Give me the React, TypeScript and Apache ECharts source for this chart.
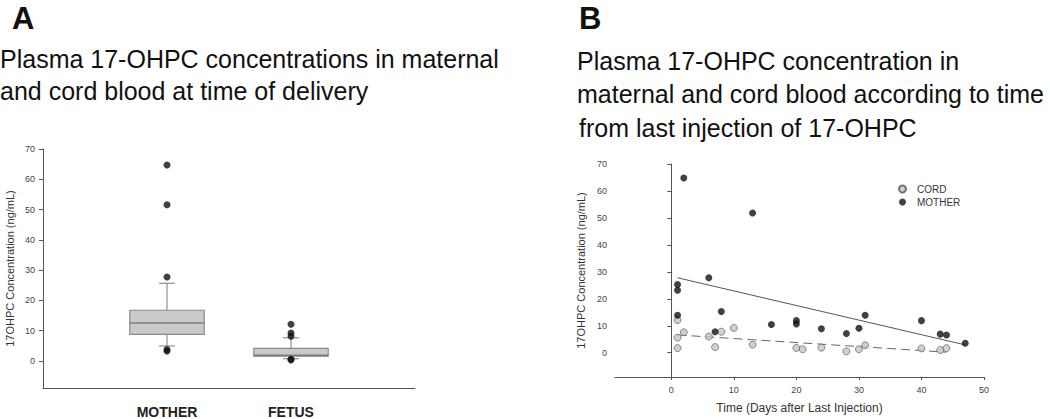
import React, { useEffect, useRef } from "react";
import * as echarts from "echarts";

// ---------- Panel A data ----------
const boxCategories = ["MOTHER", "FETUS"];
const boxPositions = [1, 2];
// [lower whisker, Q1, median, Q3, upper whisker]
const boxStats = [
  [4.9, 8.7, 12.5, 16.7, 25.6],
  [0.7, 1.5, 1.8, 4.1, 7.6],
];
const motherOutliers = [64.7, 51.6, 27.7, 3.7, 3.2];
const fetusOutliers = [12.1, 9.2, 8.1, 0.5, 0.3];

// ---------- Panel B data ----------
const motherDays = [2, 13, 6, 1, 1, 1, 8, 7, 16, 20, 20, 24, 28, 30, 31, 40, 43, 44, 47];
const motherConc = [64.8, 51.8, 27.8, 25.3, 23.2, 13.9, 15.3, 7.8, 10.5, 11.9, 10.7, 8.9, 7.1, 9.1, 13.9, 11.9, 6.9, 6.6, 3.5];
const cordDays = [1, 1, 1, 2, 6, 7, 8, 10, 13, 20, 21, 24, 28, 30, 31, 40, 43, 44];
const cordConc = [12.1, 5.6, 1.7, 7.6, 6.0, 2.1, 7.8, 9.2, 3.0, 1.8, 1.3, 1.9, 0.5, 1.3, 2.8, 1.6, 1.0, 1.7];
// fitted regression lines (end points)
const motherFitDays = [1, 47];
const motherFitConc = [27.8, 2.9];
const cordFitDays = [1, 44];
const cordFitConc = [6.6, 0.2];

const yTicks = [0, 10, 20, 30, 40, 50, 60, 70];
const xTicksB = [0, 10, 20, 30, 40, 50];

const FONT = "'Liberation Sans', Arial, Helvetica, sans-serif";
const AXIS = "#555";
const LABEL = "#444";

const zip = (a: number[], b: number[]) => a.map((v, i) => [v, b[i]]);

export default function App() {
  const ref = useRef<HTMLDivElement>(null);
  useEffect(() => {
    document.body.style.margin = "0";
    if (!ref.current) return;
    const chart = echarts.init(ref.current, null, { renderer: "svg" });

    const boxData = boxPositions.map((p, i) => [p, ...boxStats[i]]);
    const outlierData = [
      ...motherOutliers.map((v) => [boxPositions[0], v]),
      ...fetusOutliers.map((v) => [boxPositions[1], v]),
    ];

    const yAxisCommon = (gridIndex: number, name: string, gap: number) => ({
      type: "value",
      gridIndex,
      min: -9,
      max: 70,
      name,
      nameLocation: "middle",
      nameGap: gap,
      nameTextStyle: { fontFamily: FONT, fontSize: 11, color: "#333" },
      axisLine: { show: true, lineStyle: { color: AXIS, width: 1 } },
      axisTick: { show: true, length: 4, customValues: yTicks, lineStyle: { color: AXIS } },
      axisLabel: { customValues: yTicks, fontFamily: FONT, fontSize: 9, color: LABEL, margin: 8 },
      splitLine: { show: false },
    });

    const option: any = {
      animation: false,
      backgroundColor: "#fff",
      grid: [
        { left: 43, right: 635, top: 149, bottom: 31 },
        { left: 615, right: 66, top: 164, bottom: 37 },
      ],
      xAxis: [
        {
          type: "value",
          gridIndex: 0,
          min: 0,
          max: 3,
          axisLine: { show: true, onZero: false, lineStyle: { color: AXIS, width: 1 } },
          axisTick: { show: false },
          axisLabel: {
            customValues: boxPositions,
            formatter: (v: number) => boxCategories[boxPositions.indexOf(v)] ?? "",
            fontFamily: FONT,
            fontSize: 14,
            fontWeight: "bold",
            color: "#222",
            margin: 17,
          },
          splitLine: { show: false },
        },
        {
          type: "value",
          gridIndex: 1,
          min: -9,
          max: 50,
          name: "Time (Days after Last Injection)",
          nameLocation: "middle",
          nameGap: 25,
          nameTextStyle: { fontFamily: FONT, fontSize: 12, color: "#333" },
          axisLine: { show: true, onZero: false, lineStyle: { color: AXIS, width: 1 } },
          axisTick: { show: true, length: 3, customValues: xTicksB, lineStyle: { color: AXIS } },
          axisLabel: { customValues: xTicksB, fontFamily: FONT, fontSize: 9, color: LABEL, margin: 8 },
          splitLine: { show: false },
        },
      ],
      yAxis: [
        yAxisCommon(0, "17OHPC Concentration (ng/mL)", 28),
        yAxisCommon(1, "17OHPC Concentration (ng/mL)", 29),
      ],
      legend: {
        data: ["CORD", "MOTHER"],
        orient: "vertical",
        left: 893,
        top: 179,
        itemWidth: 7,
        itemHeight: 7,
        itemGap: 3,
        textStyle: { fontFamily: FONT, fontSize: 10, color: "#333", padding: [0, 0, 0, 6] },
      },
      series: [
        {
          type: "custom",
          xAxisIndex: 0,
          yAxisIndex: 0,
          data: boxData,
          encode: { x: 0, y: [1, 2, 3, 4, 5] },
          renderItem: (params: any, api: any) => {
            const x = api.value(0);
            const lo = api.value(1), q1 = api.value(2), med = api.value(3), q3 = api.value(4), hi = api.value(5);
            const pTL = api.coord([x - 0.3, q3]);
            const pBR = api.coord([x + 0.3, q1]);
            const pMedL = api.coord([x - 0.3, med]);
            const pMedR = api.coord([x + 0.3, med]);
            const pHi = api.coord([x, hi]);
            const pLo = api.coord([x, lo]);
            const pQ3 = api.coord([x, q3]);
            const pQ1 = api.coord([x, q1]);
            const cap = 8;
            const ls = { stroke: "#8f8f8f", lineWidth: 1.2 };
            return {
              type: "group",
              children: [
                { type: "line", shape: { x1: pHi[0], y1: pHi[1], x2: pQ3[0], y2: pQ3[1] }, style: ls },
                { type: "line", shape: { x1: pLo[0], y1: pLo[1], x2: pQ1[0], y2: pQ1[1] }, style: ls },
                { type: "line", shape: { x1: pHi[0] - cap, y1: pHi[1], x2: pHi[0] + cap, y2: pHi[1] }, style: ls },
                { type: "line", shape: { x1: pLo[0] - cap, y1: pLo[1], x2: pLo[0] + cap, y2: pLo[1] }, style: ls },
                {
                  type: "rect",
                  shape: { x: pTL[0], y: pTL[1], width: pBR[0] - pTL[0], height: pBR[1] - pTL[1] },
                  style: { fill: "#cacaca", stroke: "#8a8a8a", lineWidth: 1.2 },
                },
                { type: "line", shape: { x1: pMedL[0], y1: pMedL[1], x2: pMedR[0], y2: pMedR[1] }, style: { stroke: "#7c7c7c", lineWidth: 1.6 } },
              ],
            };
          },
          z: 2,
        },
        {
          type: "scatter",
          xAxisIndex: 0,
          yAxisIndex: 0,
          data: outlierData,
          symbolSize: 7,
          itemStyle: { color: "#111" },
          z: 3,
        },
        {
          name: "MOTHER-fit",
          type: "line",
          xAxisIndex: 1,
          yAxisIndex: 1,
          data: zip(motherFitDays, motherFitConc),
          showSymbol: false,
          lineStyle: { color: "#555", width: 1 },
          z: 1,
        },
        {
          name: "CORD-fit",
          type: "line",
          xAxisIndex: 1,
          yAxisIndex: 1,
          data: zip(cordFitDays, cordFitConc),
          showSymbol: false,
          lineStyle: { color: "#666", width: 1, type: [9, 5] },
          z: 1,
        },
        {
          name: "CORD",
          type: "scatter",
          xAxisIndex: 1,
          yAxisIndex: 1,
          data: zip(cordDays, cordConc),
          symbolSize: 7,
          itemStyle: { color: "#c4c4c4", borderColor: "#555", borderWidth: 0.8 },
          z: 3,
        },
        {
          name: "MOTHER",
          type: "scatter",
          xAxisIndex: 1,
          yAxisIndex: 1,
          data: zip(motherDays, motherConc),
          symbolSize: 7,
          itemStyle: { color: "#111" },
          z: 4,
        },
      ],
      graphic: [
        { type: "text", x: 12, y: 18, style: { text: "A", font: `bold 31px ${FONT}`, fill: "#111", verticalAlign: "middle" } },
        { type: "text", x: 0, y: 59, style: { text: "Plasma 17-OHPC concentrations in maternal", font: `25px ${FONT}`, fill: "#111", verticalAlign: "middle" } },
        { type: "text", x: 0, y: 91, style: { text: "and cord blood at time of delivery", font: `25px ${FONT}`, fill: "#111", verticalAlign: "middle" } },
        { type: "text", x: 579, y: 18, style: { text: "B", font: `bold 31px ${FONT}`, fill: "#111", verticalAlign: "middle" } },
        { type: "text", x: 577, y: 61, style: { text: "Plasma 17-OHPC concentration in", font: `25px ${FONT}`, fill: "#111", verticalAlign: "middle" } },
        { type: "text", x: 577, y: 94, style: { text: "maternal and cord blood according to time", font: `25px ${FONT}`, fill: "#111", verticalAlign: "middle" } },
        { type: "text", x: 579, y: 128, style: { text: "from last injection of 17-OHPC", font: `25px ${FONT}`, fill: "#111", verticalAlign: "middle" } },
      ],
    };

    chart.setOption(option);
    return () => chart.dispose();
  }, []);

  return <div ref={ref} style={{ width: 1050, height: 419 }} />;
}
